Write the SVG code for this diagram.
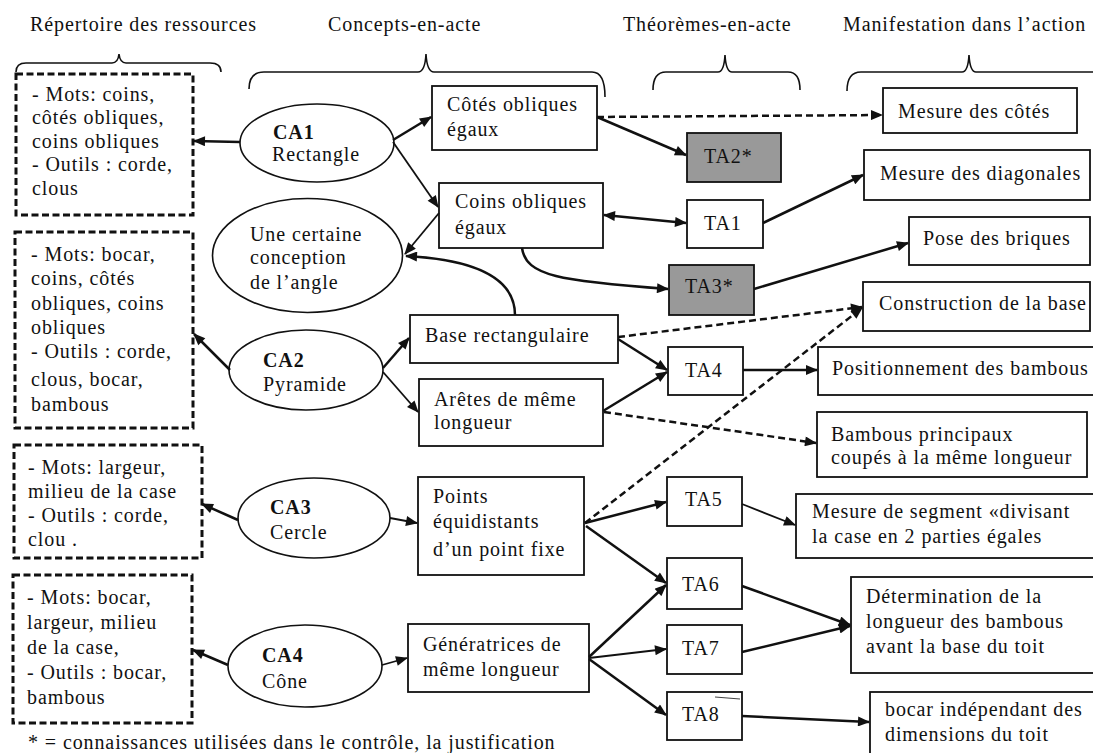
<svg xmlns="http://www.w3.org/2000/svg" width="1093" height="753" viewBox="0 0 1093 753">
  <defs>
    <marker id="ah" viewBox="0 0 12 10" refX="11" refY="5" markerWidth="13" markerHeight="10" markerUnits="userSpaceOnUse" orient="auto-start-reverse">
      <path d="M0,0 L12,5 L0,10 z" fill="#111"/>
    </marker>
    <style>
      text { font-size: 20px; fill: #111; letter-spacing: 0.9px; }
      .b { font-weight: bold; }
      .box { fill: #fff; stroke: #111; stroke-width: 1.8; }
      .res { fill: #fff; stroke: #111; stroke-width: 3; stroke-dasharray: 7 3.5; }
      .ell { fill: #fff; stroke: #111; stroke-width: 1.6; }
      .grey { fill: #999; stroke: #111; stroke-width: 1.8; }
      .brace { fill: none; stroke: #111; stroke-width: 1.6; }
      .c { fill: none; stroke: #111; stroke-width: 2.5; marker-end: url(#ah); }
      .thin { stroke-width: 1.8; }
      .d { stroke-dasharray: 7 4; }
    </style>
  </defs>

  <rect width="1093" height="753" fill="#fff"/>

  <g font-family="Liberation Serif, serif">
  <!-- column headings and braces -->
  <g id="headings">
    <text x="30" y="31">Répertoire des ressources</text>
    <text x="328" y="31">Concepts-en-acte</text>
    <text x="623" y="31">Théorèmes-en-acte</text>
    <text x="843" y="31">Manifestation dans l’action</text>
    <path class="brace" d="M16,72 Q16,63 26,63 L112,63 Q118,63 119,54 Q120,63 126,63 L210,63 Q221,63 221,72"/>
    <path class="brace" d="M249,89 Q249,72 264,72 L418,72 Q425,72 426,54 Q427,72 434,72 L592,72 Q605,72 605,97"/>
    <path class="brace" d="M653,90 Q653,72 666,72 L718,72 Q724,72 725,55 Q726,72 732,72 L788,72 Q800,72 800,90"/>
    <path class="brace" d="M847,91 Q847,72 861,72 L962,72 Q968,72 969,55 Q970,72 976,72 L1095,72"/>
  </g>

  <!-- resource repertoires -->
  <g id="res1">
    <rect class="res" x="16" y="74" width="177" height="141"/>
    <text x="32" y="101">- Mots: coins,</text>
    <text x="32" y="124">côtés obliques,</text>
    <text x="32" y="148">coins obliques</text>
    <text x="32" y="171">- Outils : corde,</text>
    <text x="32" y="195">clous</text>
  </g>
  <g id="res2">
    <rect class="res" x="15" y="232" width="178" height="196"/>
    <text x="31" y="261">- Mots: bocar,</text>
    <text x="31" y="285">coins, côtés</text>
    <text x="31" y="310">obliques, coins</text>
    <text x="31" y="334">obliques</text>
    <text x="31" y="358">- Outils : corde,</text>
    <text x="31" y="386">clous, bocar,</text>
    <text x="31" y="411">bambous</text>
  </g>
  <g id="res3">
    <rect class="res" x="14" y="445" width="188" height="113"/>
    <text x="28" y="474">- Mots: largeur,</text>
    <text x="28" y="498">milieu de la case</text>
    <text x="28" y="522">- Outils : corde,</text>
    <text x="28" y="546">clou .</text>
  </g>
  <g id="res4">
    <rect class="res" x="13" y="575" width="179" height="148"/>
    <text x="27" y="604">- Mots: bocar,</text>
    <text x="27" y="629">largeur, milieu</text>
    <text x="27" y="654">de la case,</text>
    <text x="27" y="679">- Outils : bocar,</text>
    <text x="27" y="704">bambous</text>
  </g>

  <!-- concepts -->
  <g id="ca1">
    <ellipse class="ell" cx="317" cy="143" rx="77" ry="39"/>
    <text class="b" x="273" y="139">CA1</text>
    <text x="272" y="161">Rectangle</text>
  </g>
  <g id="angle">
    <ellipse class="ell" cx="307.5" cy="255.5" rx="95" ry="57"/>
    <text x="250" y="241">Une certaine</text>
    <text x="250" y="264">conception</text>
    <text x="250" y="289">de l’angle</text>
  </g>
  <g id="ca2">
    <ellipse class="ell" cx="306" cy="370" rx="77" ry="40"/>
    <text class="b" x="263" y="367">CA2</text>
    <text x="263" y="391">Pyramide</text>
  </g>
  <g id="ca3">
    <ellipse class="ell" cx="314" cy="518" rx="76" ry="40"/>
    <text class="b" x="270" y="514">CA3</text>
    <text x="270" y="539">Cercle</text>
  </g>
  <g id="ca4">
    <ellipse class="ell" cx="305" cy="666" rx="77" ry="41"/>
    <text class="b" x="262" y="662">CA4</text>
    <text x="262" y="688">Cône</text>
  </g>

  <g id="cotes">
    <rect class="box" x="432" y="86" width="165" height="64"/>
    <text x="447" y="111">Côtés obliques</text>
    <text x="447" y="136">égaux</text>
  </g>
  <g id="coins">
    <rect class="box" x="439" y="183" width="164" height="65"/>
    <text x="455" y="208">Coins obliques</text>
    <text x="455" y="234">égaux</text>
  </g>
  <g id="base">
    <rect class="box" x="410" y="315" width="208" height="48"/>
    <text x="425" y="342">Base rectangulaire</text>
  </g>
  <g id="aretes">
    <rect class="box" x="419" y="379" width="184" height="67"/>
    <text x="434" y="406">Arêtes de même</text>
    <text x="434" y="429">longueur</text>
  </g>
  <g id="points">
    <rect class="box" x="418" y="477" width="166" height="98"/>
    <text x="433" y="503">Points</text>
    <text x="433" y="528">équidistants</text>
    <text x="433" y="556">d’un point fixe</text>
  </g>
  <g id="generatrices">
    <rect class="box" x="408" y="624" width="181" height="68"/>
    <text x="423" y="651">Génératrices de</text>
    <text x="423" y="676">même longueur</text>
  </g>

  <!-- theorems -->
  <g id="ta2">
    <rect class="grey" x="687" y="133" width="94" height="49"/>
    <text x="704" y="163">TA2*</text>
  </g>
  <g id="ta1">
    <rect class="box" x="687" y="200" width="76" height="48"/>
    <text x="704" y="230">TA1</text>
  </g>
  <g id="ta3">
    <rect class="grey" x="669" y="265" width="85" height="50"/>
    <text x="685" y="293">TA3*</text>
  </g>
  <g id="ta4">
    <rect class="box" x="668" y="347" width="75" height="48"/>
    <text x="685" y="377">TA4</text>
  </g>
  <g id="ta5">
    <rect class="box" x="667" y="477" width="75" height="49"/>
    <text x="685" y="506">TA5</text>
  </g>
  <g id="ta6">
    <rect class="box" x="667" y="558" width="75" height="51"/>
    <text x="682" y="591">TA6</text>
  </g>
  <g id="ta7">
    <rect class="box" x="667" y="625" width="75" height="49"/>
    <text x="682" y="655">TA7</text>
  </g>
  <g id="ta8">
    <rect class="box" x="667" y="692" width="75" height="48"/>
    <line x1="715" y1="697" x2="740" y2="699" stroke="#111" stroke-width="0.8"/>
    <text x="682" y="721">TA8</text>
  </g>

  <!-- actions -->
  <g id="m-cotes">
    <rect class="box" x="883" y="88" width="194" height="45"/>
    <text x="898" y="118">Mesure des côtés</text>
  </g>
  <g id="m-diag">
    <rect class="box" x="864" y="150" width="226" height="50"/>
    <text x="880" y="180">Mesure des diagonales</text>
  </g>
  <g id="m-briques">
    <rect class="box" x="909" y="217" width="181" height="48"/>
    <text x="923" y="245">Pose des briques</text>
  </g>
  <g id="m-base">
    <rect class="box" x="863" y="282" width="227" height="49"/>
    <text x="879" y="310">Construction de la base</text>
  </g>
  <g id="m-position">
    <rect class="box" x="818" y="347" width="285" height="48"/>
    <text x="832" y="375">Positionnement des bambous</text>
  </g>
  <g id="m-bambous">
    <rect class="box" x="817" y="412" width="270" height="65"/>
    <text x="831" y="441">Bambous principaux</text>
    <text x="831" y="464">coupés à la même longueur</text>
  </g>
  <g id="m-segment">
    <rect class="box" x="796" y="494" width="307" height="64"/>
    <text x="812" y="518">Mesure de segment «divisant</text>
    <text x="812" y="543">la case en 2 parties égales</text>
  </g>
  <g id="m-longueur">
    <rect class="box" x="851" y="577" width="252" height="96"/>
    <text x="866" y="603">Détermination de la</text>
    <text x="866" y="628">longueur des bambous</text>
    <text x="866" y="653">avant la base du toit</text>
  </g>
  <g id="m-bocar">
    <rect class="box" x="870" y="692" width="233" height="80"/>
    <text x="885" y="716">bocar indépendant des</text>
    <text x="885" y="741">dimensions du toit</text>
  </g>

  <!-- connectors -->
  <g id="connectors">
    <path class="c" d="M240,142 L194,141"/>
    <path class="c" d="M393,140 L431,117"/>
    <path class="c thin" d="M393,142 L438,207"/>
    <path class="c thin" d="M439,213 L405,254"/>
    <path class="c" d="M515,315 C515,272 462,259 406,256"/>
    <path class="c" d="M230,370 L194,334"/>
    <path class="c" d="M383,368 L409,338"/>
    <path class="c thin" d="M383,372 L418,412"/>
    <path class="c" d="M238,520 L202,504"/>
    <path class="c thin" d="M390,518 L417,523"/>
    <path class="c" d="M228,665 L193,650"/>
    <path class="c thin" d="M382,665 L407,658"/>

    <path class="c" d="M597,117 L686,155"/>
    <path class="c d" d="M597,117 L882,115"/>
    <path class="c" style="marker-start:url(#ah)" d="M604,215 L686,223"/>
    <path class="c" d="M522,248 C526,276 560,281 668,289"/>
    <path class="c d" d="M618,337 L862,307"/>
    <path class="c d" d="M585,523 L862,308"/>
    <path class="c" d="M618,339 L667,370"/>
    <path class="c" d="M603,411 L667,372"/>
    <path class="c d" d="M604,412 L816,443"/>
    <path class="c" d="M585,523 L666,502"/>
    <path class="c" d="M586,526 L666,583"/>
    <path class="c" d="M589,657 L666,585"/>
    <path class="c thin" d="M589,658 L666,649"/>
    <path class="c" d="M589,659 L666,715"/>

    <path class="c" d="M763,223 L863,175"/>
    <path class="c" d="M754,289 L908,243"/>
    <path class="c" d="M743,370 L817,370"/>
    <path class="c thin" d="M742,504 L795,525"/>
    <path class="c" d="M742,586 L850,625"/>
    <path class="c" d="M742,652 L850,626"/>
    <path class="c" d="M742,716 L869,722"/>
  </g>

  <text x="28" y="749">* = connaissances utilisées dans le contrôle, la justification</text>
  </g>
</svg>
